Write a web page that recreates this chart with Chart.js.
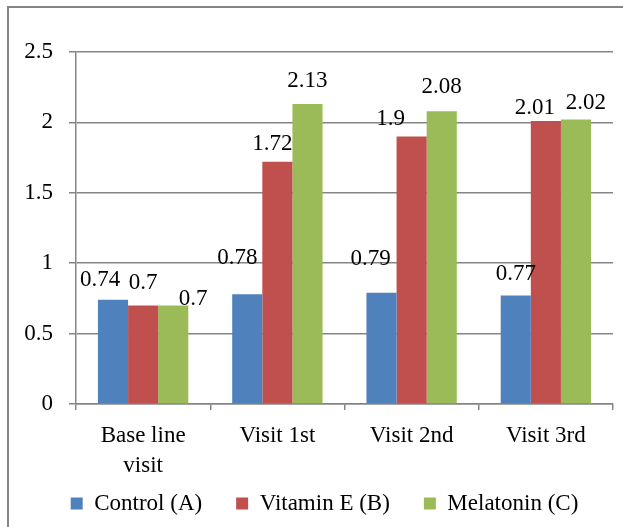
<!DOCTYPE html>
<html>
<head>
<meta charset="utf-8">
<script src="https://cdn.jsdelivr.net/npm/chart.js@4.4.1/dist/chart.umd.min.js"></script>
<style>
  html, body { margin: 0; padding: 0; background: #fff; }
</style>
</head>
<body>
<canvas id="myChart" width="623" height="527"></canvas>
<script>
const categories = [['Base line', 'visit'], 'Visit 1st', 'Visit 2nd', 'Visit 3rd'];
const seriesNames = ['Control (A)', 'Vitamin E (B)', 'Melatonin (C)'];
const controlValues = [0.74, 0.78, 0.79, 0.77];
const vitaminEValues = [0.7, 1.72, 1.9, 2.01];
const melatoninValues = [0.7, 2.13, 2.08, 2.02];
const yTicks = [0, 0.5, 1, 1.5, 2, 2.5];

const FONT = "'Liberation Serif', 'Times New Roman', serif";
const GRAY = '#858585';

// label nudges [dx, dy above bar top] per series/category, like the excel layout
const labelOffsets = [
    [[-13, 14], [-10, 30], [-11, 28], [0, 16]],
    [[0, 16], [-5, 12], [-21, 11], [-11, 7]],
    [[20, 0], [0, 17], [0, 18], [10, 11]],
];

const valueLabels = {
    id: 'valueLabels',
    afterDatasetsDraw(chart, args, opts) {
        const ctx = chart.ctx;
        ctx.save();
        ctx.font = "23px " + FONT;
        ctx.fillStyle = '#000';
        ctx.textAlign = 'center';
        ctx.textBaseline = 'alphabetic';
        chart.data.datasets.forEach((ds, i) => {
            chart.getDatasetMeta(i).data.forEach((bar, j) => {
                const [dx, dy] = opts.offsets[i][j];
                ctx.fillText(String(ds.data[j]), bar.x + dx, bar.y - dy);
            });
        });
        ctx.restore();
    }
};

const frame = {
    id: 'frame',
    afterLayout(chart) {
        // let the two-line category label run past the axis box, nudge legend right
        chart.scales.x.bottom = chart.height;
        chart.legend.left += 18;
        chart.legend.right += 18;
    },
    beforeDraw(chart) {
        const ctx = chart.ctx;
        ctx.save();
        ctx.strokeStyle = GRAY;
        ctx.lineWidth = 2;
        ctx.beginPath();
        ctx.moveTo(8, chart.height);
        ctx.lineTo(8, 7);
        ctx.lineTo(chart.width, 7);
        ctx.stroke();
        ctx.restore();
    }
};

new Chart(document.getElementById('myChart'), {
    type: 'bar',
    data: {
        labels: categories,
        datasets: [
            { label: seriesNames[0], data: controlValues, backgroundColor: '#4F81BD' },
            { label: seriesNames[1], data: vitaminEValues, backgroundColor: '#C0504D' },
            { label: seriesNames[2], data: melatoninValues, backgroundColor: '#9BBB59' },
        ],
    },
    options: {
        responsive: false,
        animation: false,
        devicePixelRatio: 1,
        layout: { padding: { top: 52, right: 10, bottom: 2, left: 0 } },
        datasets: { bar: { barPercentage: 1, categoryPercentage: 0.673 } },
        scales: {
            x: {
                grid: { display: true, drawOnChartArea: false, drawTicks: true, tickLength: 6, color: GRAY, lineWidth: 1.5 },
                border: { color: GRAY, width: 1.5 },
                ticks: { color: '#000', padding: 11, font: { family: FONT, size: 23, lineHeight: 1.3 }, maxRotation: 0 },
                afterFit(scale) { scale.height = 54; },
            },
            y: {
                min: 0,
                max: 2.5,
                grid: { color: GRAY, lineWidth: 1.5, tickLength: 7 },
                border: { color: GRAY, width: 1.5 },
                ticks: { color: '#000', padding: 16, font: { family: FONT, size: 23 }, callback: v => String(v) },
                afterBuildTicks(scale) { scale.ticks = yTicks.map(v => ({ value: v })); },
                afterFit(scale) { scale.width = 76; },
            },
        },
        plugins: {
            legend: {
                position: 'bottom',
                labels: { color: '#000', boxWidth: 12, boxHeight: 12, padding: 34, font: { family: FONT, size: 23 } },
            },
            tooltip: { enabled: false },
            valueLabels: { offsets: labelOffsets },
        },
    },
    plugins: [valueLabels, frame],
});
</script>
</body>
</html>
